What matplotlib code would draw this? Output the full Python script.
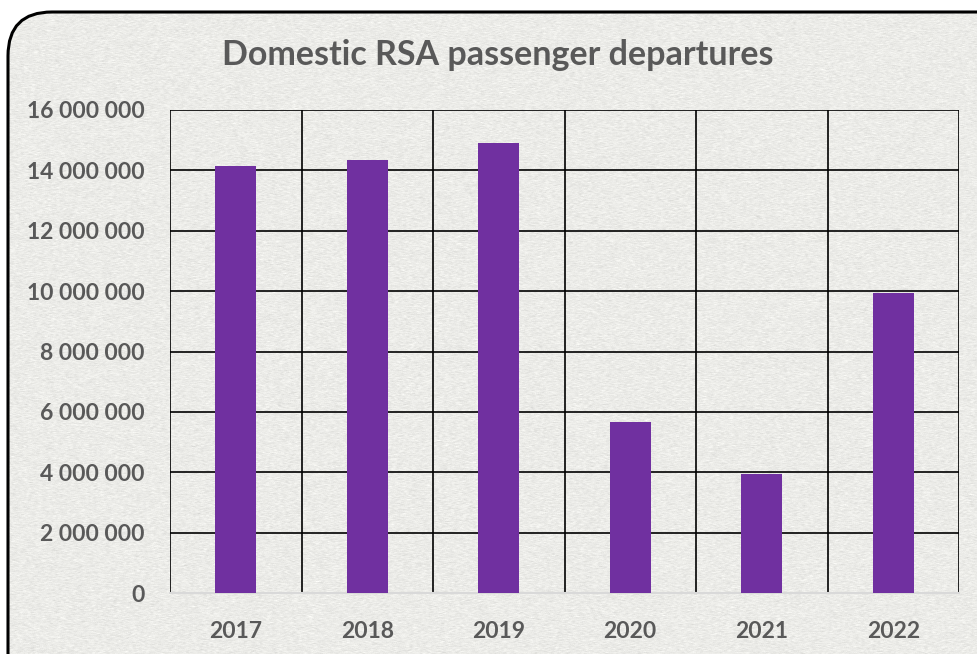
import numpy as np
import matplotlib
matplotlib.use("Agg")
import matplotlib.pyplot as plt
from matplotlib.patches import FancyBboxPatch
from matplotlib.ticker import FuncFormatter, MultipleLocator

years = ["2017", "2018", "2019", "2020", "2021", "2022"]
departures = [14150000, 14350000, 14920000, 5650000, 3930000, 9950000]

plt.rcParams["font.family"] = ["Lato", "DejaVu Sans"]
text_color = "#595959"
bar_color = "#7030A0"

fig = plt.figure(figsize=(9.77, 6.54), dpi=100)
fig.patch.set_facecolor("white")

# textured paper-like background inside the rounded frame
bg = fig.add_axes([0, 0, 1, 1], zorder=0)
rng = np.random.default_rng(3)
noise = rng.normal(0, 1, (654, 977))
k = np.ones(3) / 3
noise = np.apply_along_axis(lambda r: np.convolve(r, k, mode="same"), 1, noise)
tex = np.clip(0.925 + 0.03 * noise, 0.84, 1.0)
bg.imshow(np.dstack([tex, tex, tex * 0.985]), aspect="auto", extent=[0, 1, 0, 1])
bg.set_xlim(0, 1)
bg.set_ylim(0, 1)
bg.axis("off")
frame = FancyBboxPatch((8 / 977, -0.1), 1.1, 0.1 + (654 - 12) / 654,
                       boxstyle="round,pad=0,rounding_size=0.045",
                       transform=bg.transAxes, facecolor="none",
                       edgecolor="black", linewidth=2.2, clip_on=False,
                       mutation_aspect=977 / 654)
bg.add_patch(frame)
bg.get_images()[0].set_clip_path(frame)

ax = fig.add_axes([170 / 977, 61 / 654, 789 / 977, 483 / 654], zorder=1)
ax.patch.set_alpha(0)
x = np.arange(len(years))
ax.bar(x, departures, width=0.31, color=bar_color, zorder=3)

ax.set_xlim(-0.5, len(years) - 0.5)
ax.set_ylim(0, 16000000)
ax.yaxis.set_major_locator(MultipleLocator(2000000))
ax.yaxis.set_major_formatter(FuncFormatter(lambda v, p: f"{int(v):,}".replace(",", " ")))
ax.set_xticks(x)
ax.set_xticklabels(years)
ax.set_xticks(np.arange(len(years) + 1) - 0.5, minor=True)
ax.grid(axis="y", which="major", color="black", linewidth=1.2, zorder=1)
ax.grid(axis="x", which="minor", color="black", linewidth=1.2, zorder=1)
ax.tick_params(axis="both", which="both", length=0, labelcolor=text_color, labelsize=16.5)
ax.tick_params(axis="y", pad=18)
ax.tick_params(axis="x", pad=20)
for lab in ax.get_xticklabels() + ax.get_yticklabels():
    lab.set_fontweight("bold")
for s in ["top", "right", "left"]:
    ax.spines[s].set_visible(False)
ax.spines["bottom"].set_color("#D9D9D9")
ax.spines["bottom"].set_linewidth(1.5)

fig.text(498 / 977, 1 - 55 / 654, "Domestic RSA passenger departures",
         ha="center", va="center", fontsize=24.5, fontweight="bold", color=text_color)

fig.savefig("out.png", dpi=100)
